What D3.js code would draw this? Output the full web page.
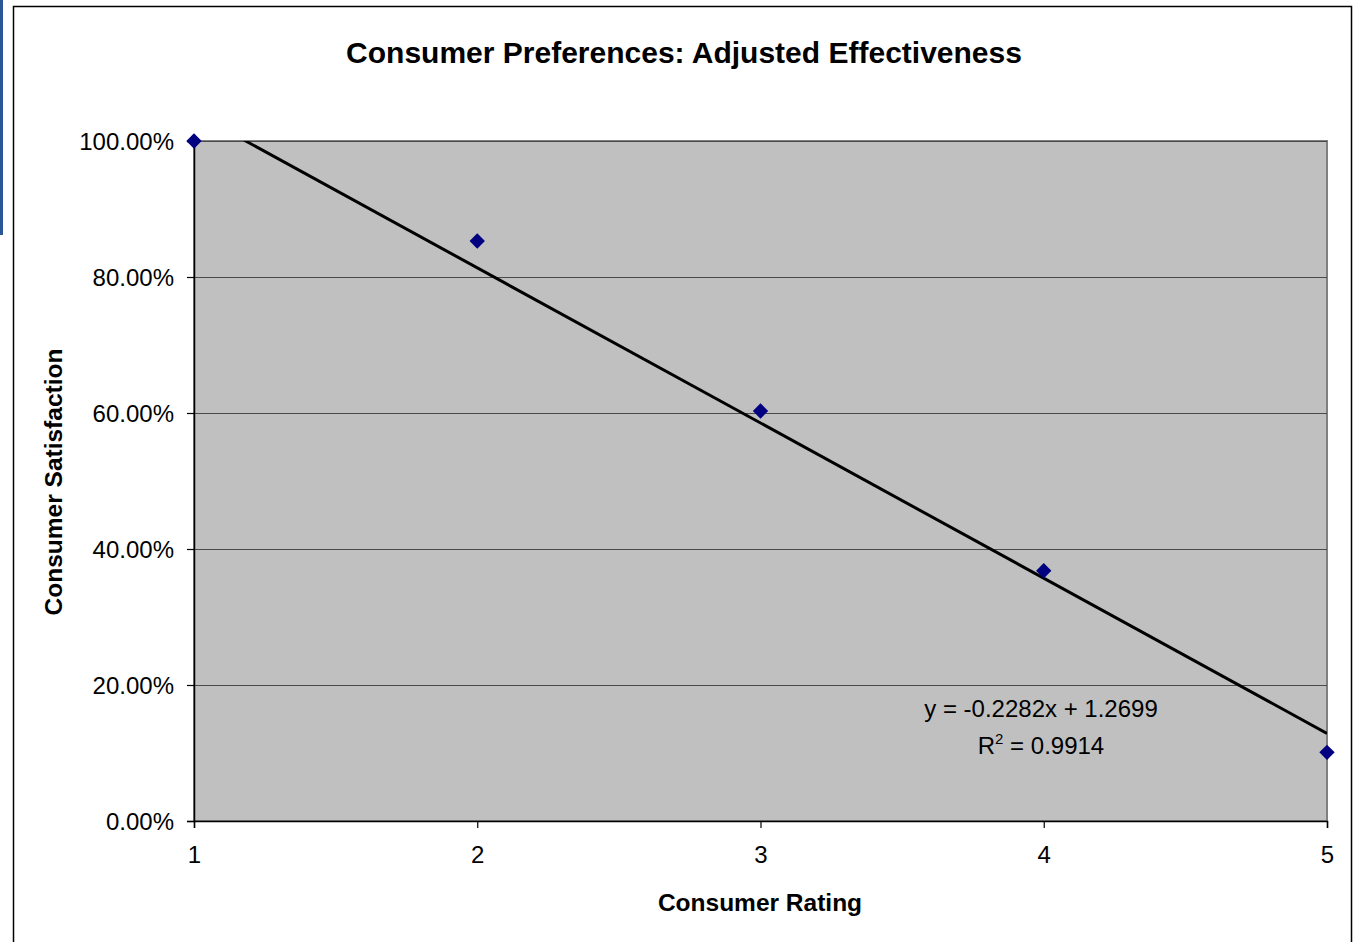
<!DOCTYPE html>
<html>
<head>
<meta charset="utf-8">
<script src="https://cdn.jsdelivr.net/npm/d3@7"></script>
<style>
  html, body { margin: 0; padding: 0; background: #fff; }
  svg { display: block; font-family: "Liberation Sans", Arial, sans-serif; }
</style>
</head>
<body>
<svg id="chart" width="1357" height="942"></svg>
<script>
// Consumer rating (x) vs. satisfaction share (y)
const ratings = [1, 2, 3, 4, 5];
const satisfaction = [1.000, 0.853, 0.603, 0.368, 0.101];
const yTicks = [0, 0.2, 0.4, 0.6, 0.8, 1.0];
const xTicks = [1, 2, 3, 4, 5];
// Linear trendline y = slope * x + intercept
const trendSlope = -0.2282;
const trendIntercept = 1.2699;
const rSquared = 0.9914;

const svg = d3.select("#chart");

// chart frame and side accent
svg.append("rect").attr("x", 0).attr("y", 0).attr("width", 3).attr("height", 235).attr("fill", "#2b5797");
svg.append("rect").attr("x", 13.5).attr("y", 6.5).attr("width", 1338).attr("height", 960)
  .attr("fill", "#fff").attr("stroke", "#000").attr("stroke-width", 1.5);

const plot = { left: 194, right: 1327, top: 141, bottom: 821 };

const x = d3.scaleLinear().domain([1, 5]).range([plot.left, plot.right]);
const y = d3.scaleLinear().domain([0, 1]).range([plot.bottom, plot.top]);

// plot area
svg.append("rect")
  .attr("x", plot.left).attr("y", plot.top)
  .attr("width", plot.right - plot.left).attr("height", plot.bottom - plot.top)
  .attr("fill", "#c0c0c0")
  .attr("stroke", "#808080").attr("stroke-width", 2);

// horizontal gridlines
svg.append("g").selectAll("line").data(yTicks.filter(d => d > 0)).join("line")
  .attr("x1", plot.left).attr("x2", plot.right)
  .attr("y1", d => Math.round(y(d)) + 0.5).attr("y2", d => Math.round(y(d)) + 0.5)
  .attr("stroke", "#4a4a4a").attr("stroke-width", 1);

// axes
const yAxis = d3.axisLeft(y).tickValues(yTicks).tickFormat(d3.format(".2%")).tickSize(7).tickPadding(13);
const xAxis = d3.axisBottom(x).tickValues(xTicks).tickFormat(d3.format("d")).tickSize(7).tickPadding(18);

const gy = svg.append("g").attr("transform", `translate(${plot.left},0)`).call(yAxis);
const gx = svg.append("g").attr("transform", `translate(0,${plot.bottom})`).call(xAxis);
[gx, gy].forEach(g => {
  g.select(".domain").attr("stroke", "#000").attr("stroke-width", 1.5);
  g.selectAll(".tick line").attr("stroke", "#000").attr("stroke-width", 1.2);
  g.selectAll(".tick text").attr("fill", "#000").style("font-size", "24px")
    .style("font-family", "'Liberation Sans', Arial, sans-serif");
});
gy.selectAll(".tick text").attr("dy", "0.36em");

// trendline, clipped to the plot area
svg.append("clipPath").attr("id", "plotClip").append("rect")
  .attr("x", plot.left).attr("y", plot.top)
  .attr("width", plot.right - plot.left).attr("height", plot.bottom - plot.top);
const trend = [1, 5].map(v => [v, trendSlope * v + trendIntercept]);
svg.append("path")
  .attr("clip-path", "url(#plotClip)")
  .attr("d", d3.line().x(d => x(d[0])).y(d => y(d[1]))(trend))
  .attr("stroke", "#000").attr("stroke-width", 3).attr("fill", "none");

// data markers
svg.append("g").selectAll("path").data(ratings.map((r, i) => [r, satisfaction[i]])).join("path")
  .attr("transform", d => `translate(${x(d[0])},${y(d[1])})`)
  .attr("d", d3.symbol(d3.symbolDiamond2, 150)())
  .attr("fill", "#000080");

// trendline equation
const eq = svg.append("text").attr("x", 1041).attr("y", 717).attr("text-anchor", "middle")
  .style("font-size", "24px").attr("fill", "#000");
eq.text(`y = ${trendSlope}x + ${trendIntercept}`);
const r2 = svg.append("text").attr("x", 1041).attr("y", 754).attr("text-anchor", "middle")
  .style("font-size", "24px").attr("fill", "#000");
r2.append("tspan").text("R");
r2.append("tspan").attr("dy", -10).style("font-size", "15px").text("2");
r2.append("tspan").attr("dy", 10).text(` = ${rSquared}`);

// titles
svg.append("text").attr("x", 684).attr("y", 63).attr("text-anchor", "middle")
  .style("font-size", "30px").style("font-weight", "bold")
  .text("Consumer Preferences: Adjusted Effectiveness");
svg.append("text").attr("x", 760).attr("y", 911).attr("text-anchor", "middle")
  .style("font-size", "24.5px").style("font-weight", "bold")
  .text("Consumer Rating");
svg.append("text").attr("transform", "translate(62,482) rotate(-90)").attr("text-anchor", "middle")
  .style("font-size", "24.5px").style("font-weight", "bold")
  .text("Consumer Satisfaction");
</script>
</body>
</html>
